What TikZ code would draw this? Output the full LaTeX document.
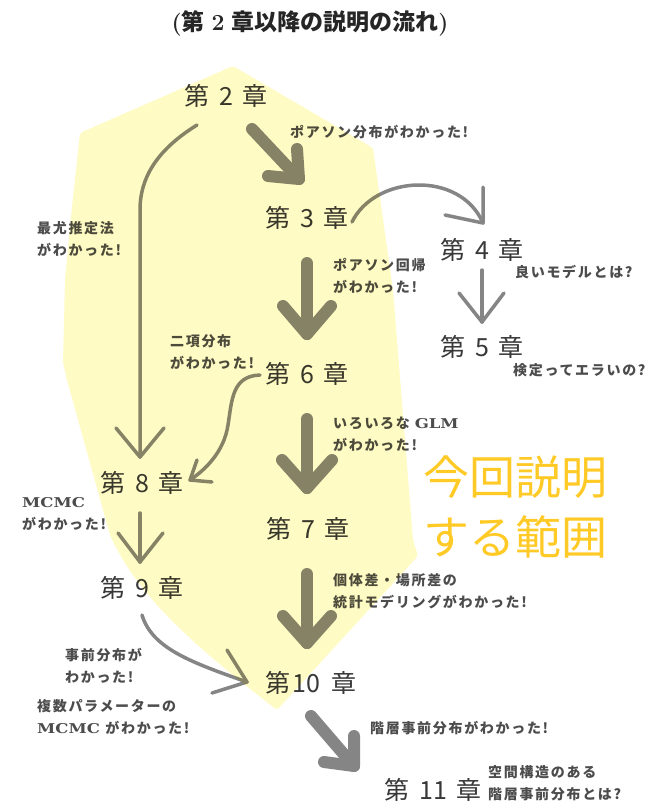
\documentclass[tikz,border=0pt]{standalone}
\usepackage{fontspec}
\usetikzlibrary{calc}
\newfontfamily\jp{Noto Sans CJK JP}
\newfontfamily\jpnote{Noto Sans CJK JP}[LetterSpace=12]
\newfontfamily\latinserif{DejaVu Serif}
\definecolor{hl}{RGB}{255,251,196}
\definecolor{rangeyellow}{RGB}{255,202,38}
\newcommand\chp[1]{第\hspace{0.38em}#1\hspace{0.38em}章}
\newcommand\latinb[1]{{\latinserif\bfseries\fontsize{13.5}{22}\selectfont\scalebox{1.22}[1]{#1}}}
\newcommand\arms[4]{\draw[#1] ($(#2)+(#3)$) -- (#2) -- ($(#2)+(#4)$);}
\tikzset{
  chap/.style={font=\jp\fontsize{25}{30}\selectfont, text=black!78, inner sep=0pt},
  note/.style={font=\jpnote\bfseries\fontsize{14}{22}\selectfont, text=black!70, inner sep=0pt, anchor=west, align=left},
  heavy/.style={line width=12pt, draw=black!48, line cap=round, line join=round},
  light/.style={line width=3.5pt, draw=black!48, line cap=round, line join=round},
  hilite/.style={fill=hl, rounded corners=3pt},
}
\begin{document}
\begin{tikzpicture}[x=1pt,y=-1pt]
\fill[white] (0,0) rectangle (653,804);
\useasboundingbox (0,0) rectangle (653,804);

% title
\node[inner sep=0pt, text=black!85, font=\fontsize{23}{26}\selectfont] (title) at (310,23)
  {\textbf{(}{\jp\bfseries 第}\hspace{0.3em}\textbf{2}\hspace{0.3em}{\jp\bfseries 章以降の説明の流れ}\textbf{)}};

% chapters
\node[chap] (c2) at (226,96) {\chp{2}};
\node[chap] (c3) at (307,218) {\chp{3}};
\node[chap] (c4) at (482,250) {\chp{4}};
\node[chap] (c5) at (482,347) {\chp{5}};
\node[chap] (c6) at (307,374) {\chp{6}};
\node[chap] (c7) at (308,529) {\chp{7}};
\node[chap] (c8) at (142,483) {\chp{8}};
\node[chap] (c9) at (142,588) {\chp{9}};
\node[chap] (c10) at (311,683) {第\hspace{0.12em}10\hspace{0.45em}章};
\node[chap] (c11) at (433,790) {\chp{11}};

% notes
\node[note] (n1) at (290,132) {ポアソン分布がわかった!};
\node[note] (n2) at (37,239) {最尤推定法\\がわかった!};
\node[note] (n3) at (333,276) {ポアソン回帰\\がわかった!};
\node[note] (n4) at (515,272) {良いモデルとは?};
\node[note] (n5) at (170,352) {二項分布\\がわかった!};
\node[note] (n6) at (513,370) {検定ってエラいの?};
\node[note] (n7) at (333,434) {いろいろな \latinb{GLM}\\がわかった!};
\node[note] (n8) at (22,514) {\latinb{MCMC}\\がわかった!};
\node[note] (n9) at (333,591) {個体差・場所差の\\統計モデリングがわかった!};
\node[note] (n10) at (65,666) {事前分布が\\わかった!};
\node[note] (n11) at (37,717) {複数パラメーターの\\\latinb{MCMC}\hspace{0.4em}がわかった!};
\node[note] (n12) at (370,728) {階層事前分布がわかった!};
\node[note] (n13) at (488,783) {空間構造のある\\階層事前分布とは?};

% range label
\node[inner sep=0pt, anchor=west, align=left, text=rangeyellow,
  font=\jp\fontsize{46}{60}\selectfont] (range) at (423,507) {今回説明\\する範囲};

% heavy arrows
\coordinate (a1s) at (252,129); \coordinate (a1t) at (299,179);
\draw[heavy] (a1s) -- (a1t); \arms{heavy}{a1t}{-2,-30}{-31,-3}
\coordinate (a2s) at (307,263); \coordinate (a2t) at (307,334);
\draw[heavy] (a2s) -- (a2t); \arms{heavy}{a2t}{-24,-28}{24,-28}
\coordinate (a3s) at (307,419); \coordinate (a3t) at (307,488);
\draw[heavy] (a3s) -- (a3t); \arms{heavy}{a3t}{-25,-28}{25,-28}
\coordinate (a4s) at (307,574); \coordinate (a4t) at (307,643);
\draw[heavy] (a4s) -- (a4t); \arms{heavy}{a4t}{-24,-27}{24,-27}
\coordinate (a5s) at (311,716); \coordinate (a5t) at (354,766);
\draw[heavy] (a5s) -- (a5t); \arms{heavy}{a5t}{0,-30}{-30,-4}

% light arrows
\coordinate (t1s) at (197,125); \coordinate (t1t) at (140,457);
\draw[light] (t1s) .. controls (160,148) and (140,175) .. (140,210) -- (t1t);
\arms{light}{t1t}{-24,-29}{24,-29}
\coordinate (t2s) at (352,222); \coordinate (t2t) at (483,223);
\draw[light] (t2s) .. controls (375,175) and (460,170) .. (t2t);
\arms{light}{t2t}{0,-36}{-38,-8}
\coordinate (t3s) at (482,270); \coordinate (t3t) at (482,322);
\draw[light] (t3s) -- (t3t); \arms{light}{t3t}{-23,-29}{22,-29}
\coordinate (t4s) at (260,375); \coordinate (t4t) at (190,480);
\draw[light] (t4s) .. controls (232,376) and (232,400) .. (228,425) .. controls (224,452) and (205,470) .. (t4t);
\arms{light}{t4t}{7,-20}{22,2}
\coordinate (t5s) at (140,513); \coordinate (t5t) at (140,562);
\draw[light] (t5s) -- (t5t); \arms{light}{t5t}{-22,-29}{23,-29}
\coordinate (t6s) at (142,615); \coordinate (t6t) at (247,682);
\draw[light] (t6s) .. controls (152,648) and (190,662) .. (t6t);
\arms{light}{t6t}{-20,-32}{-35,11}

% highlighted range
\begin{scope}[blend mode=multiply]
\fill[hilite] (233,66) -- (373,148) -- (393,290) -- (413,540) -- (418,556) -- (277,710)
  .. controls (200,650) and (140,600) .. (110,535) -- (67,380) -- (63,363) -- (65,280)
  -- (72,207) -- (80,133) -- cycle;
\end{scope}
\end{tikzpicture}
\end{document}
